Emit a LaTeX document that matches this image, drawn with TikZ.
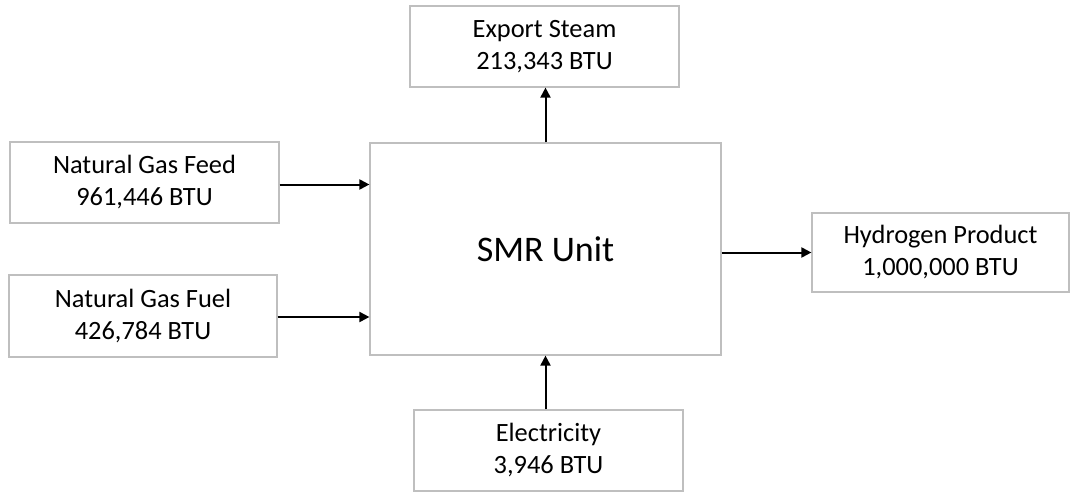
\documentclass[tikz,border=0pt]{standalone}
\usepackage{fontspec}
\setmainfont{Carlito}
\usepackage{tikz}
\usetikzlibrary{arrows.meta}
\usetikzlibrary{positioning}
\definecolor{boxgray}{RGB}{191,191,191}
\tikzstyle{flow}=[rectangle,draw=boxgray,line width=0.6pt,fill=white,align=center,font=\fontsize{13.2}{16}\selectfont,inner sep=0mm]
\tikzstyle{unit}=[flow,font=\fontsize{18}{20}\selectfont]
\tikzstyle{arrow}=[->,>={Triangle[length=5pt,width=5pt]},line width=1pt]

\begin{document}
\begin{tikzpicture}[x=0.5pt,y=-0.5pt]
      \useasboundingbox (0,0) rectangle (1071,492);
      \node[unit,minimum width=175.5pt,minimum height=106pt] at (545.5,249) (smr) {SMR Unit};
      \node[flow,minimum width=134.5pt,minimum height=40.5pt] at (544.5,46.5) (steam) {Export Steam\\213,343 BTU};
      \node[flow,minimum width=134.5pt,minimum height=40.5pt] at (144.5,182.5) (feed) {Natural Gas Feed\\961,446 BTU};
      \node[flow,minimum width=134pt,minimum height=41pt] at (143,316) (fuel) {Natural Gas Fuel\\426,784 BTU};
      \node[flow,minimum width=128.5pt,minimum height=39.5pt] at (940.5,252.5) (h2) {Hydrogen Product\\1,000,000 BTU};
      \node[flow,minimum width=134.5pt,minimum height=40.5pt] at (548.5,450.5) (elec) {Electricity\\3,946 BTU};
      \draw[arrow] ([yshift=-1pt]feed.east) -- ([yshift=-1pt]feed.east -| smr.west);
      \draw[arrow] ([yshift=-0.5pt]fuel.east) -- ([yshift=-0.5pt]fuel.east -| smr.west);
      \draw[arrow] (smr.east |- h2.west) -- (h2.west);
      \draw[arrow] (smr.north) -- (smr.north |- steam.south);
      \draw[arrow] (smr.south |- elec.north) -- (smr.south);
    \end{tikzpicture}
\end{document}
